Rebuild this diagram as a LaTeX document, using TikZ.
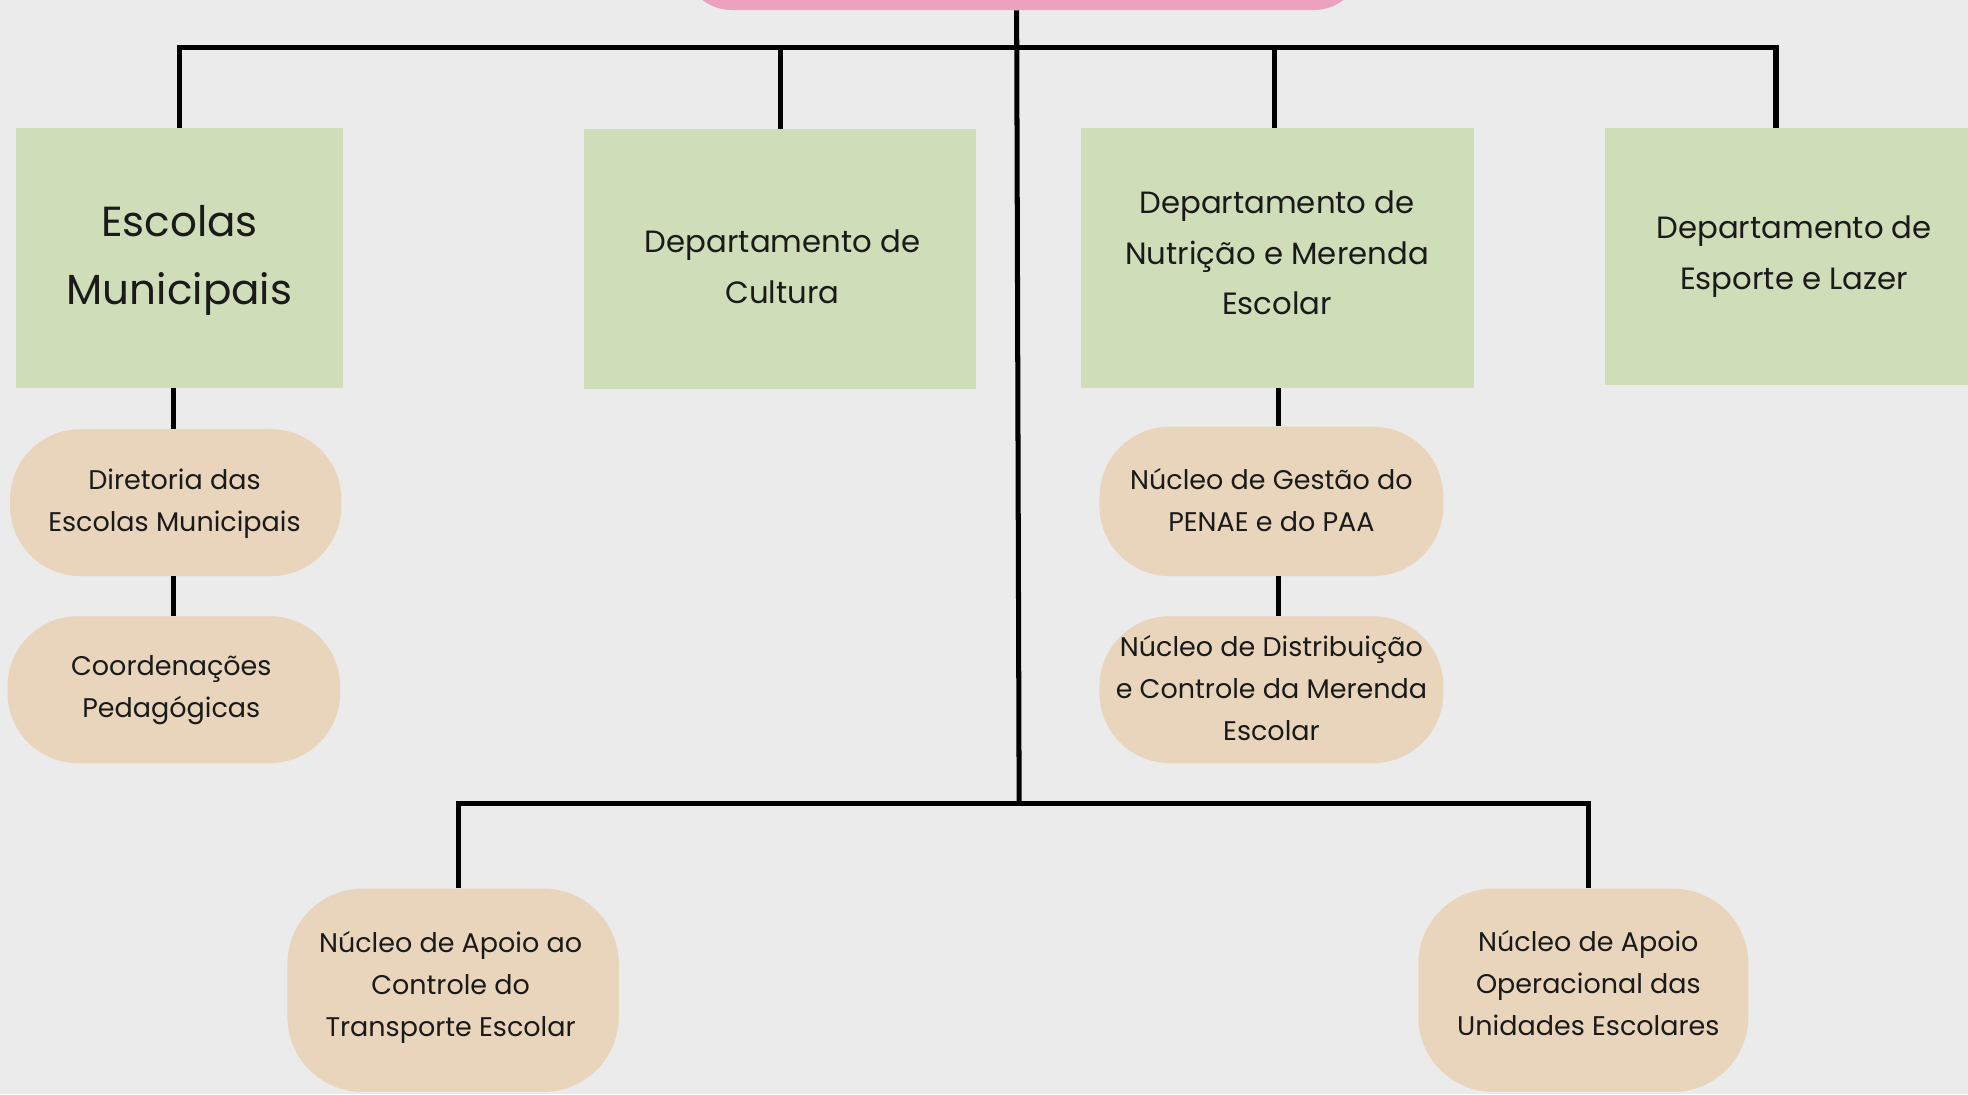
\documentclass[tikz,border=0pt]{standalone}
\usepackage{fontspec}
\setmainfont{Poppins}
\definecolor{bgc}{HTML}{EBEBEB}
\definecolor{greenc}{HTML}{CFDDB9}
\definecolor{beigec}{HTML}{E8D5BB}
\definecolor{pinkc}{HTML}{ECA2BE}
\definecolor{txtc}{HTML}{1A1A1A}
\begin{document}
\begin{tikzpicture}[x=1pt,y=-1pt,
  greenbox/.style={fill=greenc, draw=none, inner sep=0pt},
  pillbox/.style={fill=beigec, draw=none, inner sep=0pt, rounded corners=56pt},
  greentxt/.style={inner sep=0pt, align=center, text=txtc, font=\fontsize{24.5}{40}\selectfont},
  pilltxt/.style={inner sep=0pt, align=center, text=txtc, font=\fontsize{21.5}{33.5}\selectfont},
  conn/.style={draw=black, line width=4pt}]
\useasboundingbox (0,0) rectangle (1568,872);
\fill[bgc] (0,0) rectangle (1568,872);
\clip (0,0) rectangle (1568,872);

\node[fill=pinkc, minimum width=540pt, minimum height=80pt, rounded corners=38pt] (root) at (815,-32) {};

% green boxes
\node[greenbox, minimum width=260pt, minimum height=207pt] (escolas) at (143,205.5) {};
\node[greenbox, minimum width=313pt, minimum height=207pt] (cultura) at (621.5,206.5) {};
\node[greenbox, minimum width=313pt, minimum height=207pt] (nutricao) at (1017.5,205.5) {};
\node[greenbox, minimum width=301pt, minimum height=205pt] (esporte) at (1429.5,204.5) {};

\node[greentxt, font=\fontsize{33.5}{54}\selectfont] (escolasT) at ([yshift=-2pt]escolas.center) {Escolas\\Municipais};
\node[greentxt] (culturaT) at ([xshift=2pt,yshift=-6pt]cultura.center) {Departamento de\\Cultura};
\node[greentxt] (nutricaoT) at ([yshift=4pt]nutricao.center) {Departamento de\\Nutrição e Merenda\\Escolar};
\node[greentxt] (esporteT) at (esporte.center) {Departamento de\\Esporte e Lazer};

% pills
\node[pillbox, minimum width=264pt, minimum height=117pt] (dir) at (140,400.5) {};
\node[pillbox, minimum width=265pt, minimum height=117pt] (coord) at (138.5,549.5) {};
\node[pillbox, minimum width=274pt, minimum height=119pt] (gestao) at (1013,399.5) {};
\node[pillbox, minimum width=274pt, minimum height=117pt] (distrib) at (1013,549.5) {};
\node[pillbox, minimum width=264pt, minimum height=162pt, rounded corners=60pt] (apoioA) at (361,789) {};
\node[pillbox, minimum width=263pt, minimum height=162pt, rounded corners=60pt] (apoioB) at (1261.5,789) {};

\node[pilltxt] (dirT) at ([xshift=-1pt,yshift=-1pt]dir.center) {Diretoria das\\Escolas Municipais};
\node[pilltxt] (coordT) at ([xshift=-2pt]coord.center) {Coordenações\\Pedagógicas};
\node[pilltxt] (gestaoT) at ([yshift=1pt]gestao.center) {Núcleo de Gestão do\\PENAE e do PAA};
\node[pilltxt] (distribT) at ([yshift=1.5pt]distrib.center) {Núcleo de Distribuição\\e Controle da Merenda\\Escolar};
\node[pilltxt] (apoioAT) at ([xshift=-2pt,yshift=2pt]apoioA.center) {Núcleo de Apoio ao\\Controle do\\Transporte Escolar};
\node[pilltxt] (apoioBT) at ([xshift=4pt,yshift=6pt]apoioB.center) {Núcleo de Apoio\\Operacional das\\Unidades Escolares};

\coordinate (hubT) at (810,38);
\coordinate (hubB) at (812,640);
\coordinate (espT) at (1415,102);

\draw[conn] (root.south -| hubT) -- (hubB);
\draw[conn] (escolas.north) |- (hubT);
\draw[conn] (hubT) -| (espT);
\draw[conn] (cultura.north) -- (cultura.north |- hubT);
\draw[conn] ([xshift=-2pt]nutricao.north) -- ([xshift=-2pt]nutricao.north |- hubT);
\draw[conn] ([xshift=4pt]apoioA.north) |- (hubB);
\draw[conn] (hubB) -| ([xshift=4pt]apoioB.north);
\draw[conn] ([xshift=-2pt]dir.north) -- ([xshift=-2pt]dir.north |- escolas.south);
\draw[conn] ([xshift=-2pt]dir.south) -- ([xshift=-2pt]dir.south |- coord.north);
\draw[conn] ([xshift=6pt]gestao.north) -- ([xshift=6pt]gestao.north |- nutricao.south);
\draw[conn] ([xshift=6pt]distrib.north) -- ([xshift=6pt]gestao.south);
\end{tikzpicture}
\end{document}
